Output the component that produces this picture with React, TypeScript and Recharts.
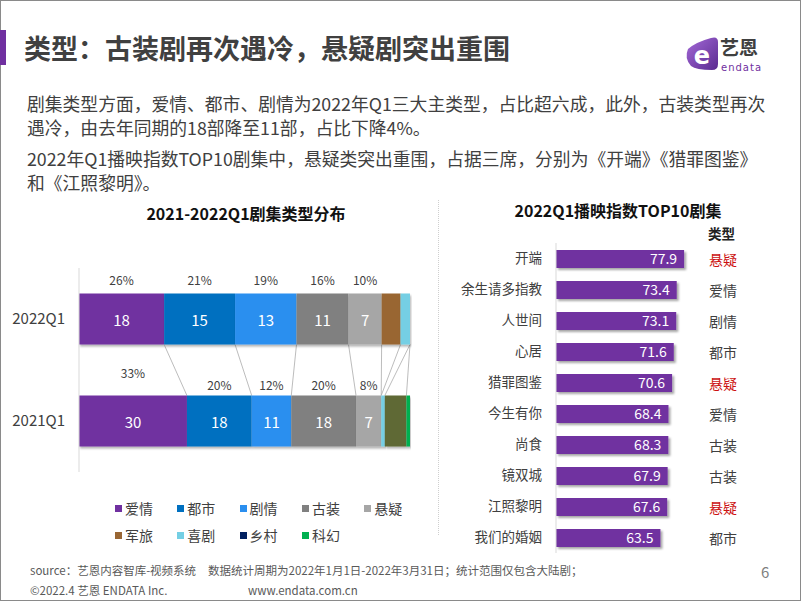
import React from 'react';
import { BarChart, Bar, XAxis, YAxis, LabelList } from 'recharts';

const FONT = "'Noto Sans CJK SC', 'Noto Sans', sans-serif";

// ---- Left chart data ----
const genres = ['爱情', '都市', '剧情', '古装', '悬疑', '军旅', '喜剧', '乡村', '科幻'];
const periods = ['2022Q1', '2021Q1'];
const counts2022 = [18, 15, 13, 11, 7, 4, 2, 0, 0];
const counts2021 = [30, 18, 11, 18, 7, 0, 1, 6, 1];
const pctLabels2022 = ['26%', '21%', '19%', '16%', '10%', '', '', '', ''];
const pctLabels2021 = ['33%', '20%', '12%', '20%', '8%', '', '', '', ''];
const genreBarColors = ['#7030A0', '#0070C0', '#2B8FEF', '#808080', '#A6A6A6', '#996633', '#74CFE4', '#5F6934', '#00B050'];
const genreLegendColors = ['#7030A0', '#0070C0', '#2B8FEF', '#808080', '#A6A6A6', '#996633', '#74CFE4', '#002060', '#00B050'];

// ---- Right chart data ----
const dramaTitles = ['开端', '余生请多指教', '人世间', '心居', '猎罪图鉴', '今生有你', '尚食', '镜双城', '江照黎明', '我们的婚姻'];
const dramaScores = [77.9, 73.4, 73.1, 71.6, 70.6, 68.4, 68.3, 67.9, 67.6, 63.5];
const dramaTypes = ['悬疑', '爱情', '剧情', '都市', '悬疑', '爱情', '古装', '古装', '悬疑', '都市'];

const rowCounts = [counts2022, counts2021];
const rowPcts = [pctLabels2022, pctLabels2021];

const genreData = periods.map((p, i) => {
  const row: any = { period: p };
  genres.forEach((g, k) => {
    row[g] = rowCounts[i][k];
  });
  return row;
});

const dramaData = dramaTitles.map((t, i) => ({ title: t, score: dramaScores[i], type: dramaTypes[i] }));

const cum = (arr: number[], k: number) => arr.slice(0, k + 1).reduce((a, b) => a + b, 0);
const total = (arr: number[]) => cum(arr, arr.length - 1);

function vbOf(props: any) {
  const vb = props.viewBox || {};
  return {
    x: Number(vb.x ?? props.x),
    y: Number(vb.y ?? props.y),
    width: Number(vb.width ?? props.width),
    height: Number(vb.height ?? props.height),
  };
}

function makeGenreShape(k: number) {
  return (props: any) => {
    const { x, y, width, height, fill } = props;
    if (!(width > 0)) return <g />;
    const isRow2021 = (props.payload && props.payload.period === periods[1]) || props.index === 1;
    const connectors: any[] = [];
    if (k === 0 && isRow2021) {
      const t21 = total(counts2021);
      const t22 = total(counts2022);
      const plotW = width / (counts2021[0] / t21);
      // barCategoryGap 25% => bar thickness is half the band, gap between bars equals bar thickness
      const gapY = height;
      for (let b = 0; b < genres.length - 1; b++) {
        const x1 = x + (cum(counts2022, b) / t22) * plotW;
        const x2 = x + (cum(counts2021, b) / t21) * plotW;
        connectors.push(
          <line key={b} x1={x1} y1={y - gapY} x2={x2} y2={y} stroke="#ABABAB" strokeWidth={0.8} />
        );
      }
    }
    return (
      <g>
        {connectors}
        <rect x={x} y={y} width={width} height={height} fill={fill} filter="url(#shadowL)" />
      </g>
    );
  };
}

function renderInside(props: any) {
  const v = Number(props.value);
  if (!(v >= 7)) return null;
  const { x, y, width, height } = vbOf(props);
  return (
    <text x={x + width / 2} y={y + height / 2} fill="#FFFFFF" fontSize={15} textAnchor="middle" dominantBaseline="central">
      {v}
    </text>
  );
}

function makePctLabel(k: number) {
  return (props: any) => {
    const idx = Number(props.index);
    const label = rowPcts[idx] ? rowPcts[idx][k] : '';
    if (!label) return null;
    const { x, y, width } = vbOf(props);
    let lift = idx === 0 ? 14 : 11;
    if (idx === 1 && k === 0) lift = 23;
    return (
      <text x={x + width / 2} y={y - lift} fill="#404040" fontSize={12} textAnchor="middle" dominantBaseline="central">
        {label}
      </text>
    );
  };
}

function DramaBarShape(props: any) {
  const { x, y, width, height, fill } = props;
  return <rect x={x} y={y} width={width} height={height} fill={fill} filter="url(#shadowR)" />;
}

function TypeTick(props: any) {
  const { x, y, index } = props;
  const t = dramaTypes[index] ?? '';
  const red = t === '悬疑';
  return (
    <text x={x} y={y} fill={red ? '#CC1111' : '#404040'} fontSize={14} textAnchor="start" dominantBaseline="central">
      {t}
    </text>
  );
}

const abs = (left: number, top: number, extra: any = {}) => ({ position: 'absolute' as const, left, top, whiteSpace: 'nowrap' as const, ...extra });

export default function App() {
  return (
    <div style={{ position: 'absolute', left: 0, top: 0, width: 802, height: 602, background: '#fff', fontFamily: FONT, overflow: 'hidden' }}>
      {/* frame */}
      <div style={{ position: 'absolute', left: 0, top: 0, width: 801, height: 601, border: '1px solid #8a8a8a', boxSizing: 'border-box' }} />
      {/* title marker */}
      <div style={{ position: 'absolute', left: 0, top: 30, width: 6, height: 35, background: '#7030A0' }} />
      <div style={abs(24, 30, { fontSize: 27, lineHeight: '36px', fontWeight: 700, color: '#404040' })}>
        类型：古装剧再次遇冷，悬疑剧突出重围
      </div>

      {/* logo */}
      <svg style={{ position: 'absolute', left: 682, top: 36 }} width={38} height={36}>
        <defs>
          <linearGradient id="logoG" x1="0" y1="0" x2="1" y2="1">
            <stop offset="0%" stopColor="#A46AD8" />
            <stop offset="100%" stopColor="#5A2A90" />
          </linearGradient>
        </defs>
        <path d="M6 13 Q2 22 9 30 Q14 34 30 34 Q36 34 36 28 L36 6 Q36 0 29 2 Q14 6 6 13 Z" fill="url(#logoG)" />
        <text x={20} y={20} fill="#fff" fontSize={24} fontWeight={700} textAnchor="middle" dominantBaseline="central" fontFamily="'DejaVu Sans', sans-serif">e</text>
      </svg>
      <div style={abs(720, 37, { fontSize: 19, lineHeight: '19px', fontWeight: 700, color: '#404040' })}>艺恩</div>
      <div style={abs(721, 62, { fontSize: 10, lineHeight: '11px', color: '#7030A0', letterSpacing: 1, fontFamily: "'DejaVu Sans', sans-serif" })}>endata</div>

      {/* paragraphs */}
      <div style={abs(27, 91, { fontSize: 17.8, lineHeight: '24px', color: '#404040' })}>
        剧集类型方面，爱情、都市、剧情为2022年Q1三大主类型，占比超六成，此外，古装类型再次
        <br />
        遇冷，由去年同期的18部降至11部，占比下降4%。
      </div>
      <div style={abs(27, 146, { fontSize: 17.8, lineHeight: '24px', color: '#404040' })}>
        2022年Q1播映指数TOP10剧集中，悬疑类突出重围，占据三席，分别为《开端》《猎罪图鉴》
        <br />
        和《江照黎明》。
      </div>

      {/* left chart title */}
      <div style={abs(96, 202, { width: 300, textAlign: 'center', fontSize: 16, lineHeight: '22px', fontWeight: 700, color: '#111' })}>
        2021-2022Q1剧集类型分布
      </div>

      {/* left chart */}
      <div style={{ position: 'absolute', left: 0, top: 250 }}>
        <BarChart
          width={420}
          height={240}
          data={genreData}
          layout="vertical"
          stackOffset="expand"
          barCategoryGap="25%"
          margin={{ top: 18, right: 10, bottom: 18, left: 0 }}
        >
          <defs>
            <filter id="shadowL" x="-10%" y="-10%" width="130%" height="140%">
              <feDropShadow dx="1" dy="2" stdDeviation="1.2" floodColor="#000" floodOpacity="0.3" />
            </filter>
          </defs>
          <XAxis type="number" hide domain={[0, 1]} />
          <YAxis
            type="category"
            dataKey="period"
            width={79}
            axisLine={{ stroke: '#D9D9D9' }}
            tickLine={false}
            tickMargin={8}
            tick={{ fontSize: 15, fill: '#404040' }}
          />
          {genres.map((g, k) => (
            <Bar key={g} dataKey={g} stackId="a" fill={genreBarColors[k]} isAnimationActive={false} shape={makeGenreShape(k)}>
              <LabelList dataKey={g} content={renderInside} />
              <LabelList dataKey={g} content={makePctLabel(k)} />
            </Bar>
          ))}
        </BarChart>
      </div>

      {/* legend */}
      {genres.map((g, i) => {
        const col = i % 5;
        const row = Math.floor(i / 5);
        const left = 115 + col * 62.3;
        const cy = 508 + row * 27;
        return (
          <div key={g} style={abs(left, cy - 10, { height: 20, display: 'flex', alignItems: 'center', fontSize: 14, color: '#404040' })}>
            <span style={{ display: 'inline-block', width: 7, height: 7, background: genreLegendColors[i], marginRight: 3 }} />
            <span style={{ lineHeight: '20px' }}>{g}</span>
          </div>
        );
      })}

      {/* separator */}
      <div style={{ position: 'absolute', left: 438, top: 200, width: 0, height: 335, borderLeft: '1px dotted #CFCFCF' }} />

      {/* right chart title */}
      <div style={abs(468, 199, { width: 300, textAlign: 'center', fontSize: 16, lineHeight: '22px', fontWeight: 700, color: '#111' })}>
        2022Q1播映指数TOP10剧集
      </div>
      <div style={abs(708, 224, { fontSize: 13.5, lineHeight: '18px', fontWeight: 700, color: '#222' })}>类型</div>

      {/* right chart */}
      <div style={{ position: 'absolute', left: 420, top: 238 }}>
        <BarChart width={382} height={320} data={dramaData} layout="vertical" margin={{ top: 5, right: 0, bottom: 5, left: 0 }}>
          <defs>
            <filter id="shadowR" x="-10%" y="-20%" width="130%" height="160%">
              <feDropShadow dx="2" dy="2" stdDeviation="1.3" floodColor="#000" floodOpacity="0.35" />
            </filter>
          </defs>
          <XAxis type="number" hide domain={[0, 90]} />
          <YAxis
            yAxisId="l"
            type="category"
            dataKey="title"
            width={136}
            interval={0}
            axisLine={{ stroke: '#D9D9D9' }}
            tickLine={false}
            tickMargin={8}
            tick={{ fontSize: 13.5, fill: '#404040' }}
          />
          <YAxis
            yAxisId="r"
            orientation="right"
            type="category"
            dataKey="title"
            width={98}
            interval={0}
            axisLine={false}
            tickLine={false}
            tickSize={0}
            tickMargin={5}
            tick={<TypeTick />}
          />
          <Bar yAxisId="l" dataKey="score" fill="#7030A0" barSize={18} isAnimationActive={false} shape={DramaBarShape}>
            <LabelList dataKey="score" position="insideRight" offset={7} fill="#FFFFFF" fontSize={14} formatter={(v: any) => Number(v).toFixed(1)} />
          </Bar>
        </BarChart>
      </div>

      {/* footer */}
      <div style={abs(30, 562, { fontSize: 11.5, lineHeight: '16px', color: '#595959' })}>source：艺恩内容智库-视频系统</div>
      <div style={abs(208, 562, { fontSize: 11.5, lineHeight: '16px', color: '#595959' })}>
        数据统计周期为2022年1月1日-2022年3月31日；统计范围仅包含大陆剧；
      </div>
      <div style={abs(30, 582, { fontSize: 11.5, lineHeight: '16px', color: '#595959' })}>©2022.4 艺恩 ENDATA Inc.</div>
      <div style={abs(248, 582, { fontSize: 11.5, lineHeight: '16px', color: '#595959' })}>www.endata.com.cn</div>
      <div style={abs(761, 562, { fontSize: 15, lineHeight: '20px', color: '#7F7F7F' })}>6</div>
    </div>
  );
}
